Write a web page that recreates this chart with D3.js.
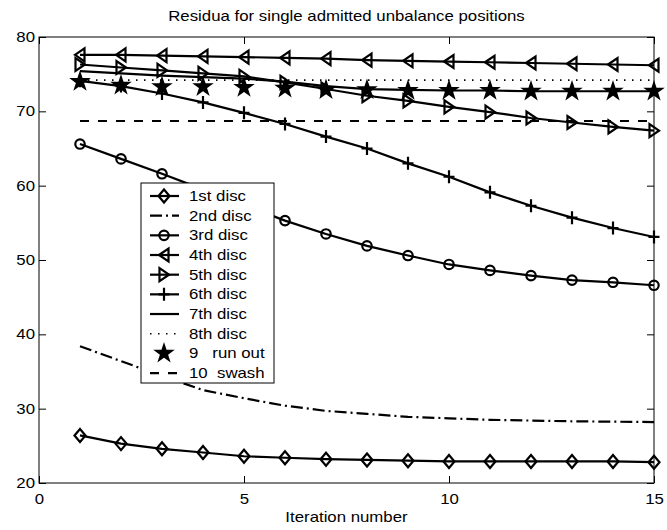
<!DOCTYPE html>
<html>
<head>
<meta charset="utf-8">
<script src="https://cdn.jsdelivr.net/npm/d3@7"></script>
<style>
  body { margin: 0; background: #fff; }
  svg { display: block; font-family: "Liberation Sans", Arial, Helvetica, sans-serif; }
</style>
</head>
<body>
<svg id="chart" width="667" height="530"></svg>
<script>
// ---- data ----
const iterations = [1,2,3,4,5,6,7,8,9,10,11,12,13,14,15];
const disc1 = [26.4,25.3,24.6,24.1,23.6,23.4,23.2,23.1,23.0,22.9,22.9,22.9,22.9,22.9,22.8];
const disc2 = [38.4,36.4,34.4,32.5,31.4,30.4,29.7,29.3,28.9,28.7,28.5,28.4,28.3,28.25,28.2];
const disc3 = [65.6,63.6,61.6,59.5,57.4,55.3,53.5,51.9,50.6,49.4,48.6,47.9,47.3,47.0,46.6];
const disc4 = [77.6,77.6,77.5,77.4,77.3,77.2,77.1,76.9,76.8,76.7,76.6,76.5,76.4,76.3,76.2];
const disc5 = [76.3,75.9,75.5,75.1,74.7,73.9,73.0,72.1,71.4,70.6,69.9,69.1,68.5,67.9,67.4];
const disc6 = [74.1,73.4,72.4,71.2,69.8,68.3,66.6,65.0,63.0,61.2,59.1,57.3,55.7,54.3,53.1];
const disc7 = [75.4,75.1,74.8,74.6,74.4,74.0,73.4,73.0,72.9,72.8,72.8,72.7,72.7,72.7,72.7];
const disc8 = [74.2,74.2,74.2,74.2,74.2,74.2,74.2,74.2,74.2,74.2,74.2,74.2,74.2,74.2,74.2];
const runOut = [74.0,73.5,73.3,73.3,73.2,73.1,72.9,72.9,72.8,72.8,72.8,72.7,72.7,72.7,72.7];
const swash = [68.7,68.7,68.7,68.7,68.7,68.7,68.7,68.7,68.7,68.7,68.7,68.7,68.7,68.7,68.7];
const seriesNames = ["1st disc","2nd disc","3rd disc","4th disc","5th disc","6th disc","7th disc","8th disc","9   run out","10  swash"];
const xTicks = [0,5,10,15];
const yTicks = [20,30,40,50,60,70,80];
const titleText = "Residua for single admitted unbalance positions";
const xLabel = "Iteration number";

// ---- styles ----
const markerPaths = {
  diamond: "M0,-6.5L5.5,0L0,6.5L-5.5,0Z",
  tleft: "M-5,0L4.5,-6.5L4.5,6.5Z",
  tright: "M5,0L-4.5,-6.5L-4.5,6.5Z",
  plus: "M-5.5,0H5.5M0,-6.5V6.5",
  circle: d3.symbol(d3.symbolCircle, 70)(),
  star: d3.symbol(d3.symbolStar, 68)()
};
const series = [
  {name: seriesNames[0], values: disc1, dash: null, marker: "diamond"},
  {name: seriesNames[1], values: disc2, dash: "12,4,2,4", marker: null},
  {name: seriesNames[2], values: disc3, dash: null, marker: "circle"},
  {name: seriesNames[3], values: disc4, dash: null, marker: "tleft"},
  {name: seriesNames[4], values: disc5, dash: null, marker: "tright"},
  {name: seriesNames[5], values: disc6, dash: null, marker: "plus"},
  {name: seriesNames[6], values: disc7, dash: null, marker: null},
  {name: seriesNames[7], values: disc8, dash: "1.5,6.5", marker: null, thin: true},
  {name: seriesNames[8], values: runOut, dash: null, marker: "star", noLine: true},
  {name: seriesNames[9], values: swash, dash: "9,9", marker: null}
];

const svg = d3.select("#chart");
const L = 39, R = 654, T = 37, B = 483;
const SX = 1.2; // horizontal text stretch
const x = d3.scaleLinear().domain([0,15]).range([L,R]);
const y = d3.scaleLinear().domain([20,80]).range([B,T]);

svg.append("rect").attr("width",667).attr("height",530).attr("fill","#fff");

function stretchedText(g, tx, ty, str, anchor, size) {
  return g.append("text")
    .attr("transform", `translate(${tx},${ty}) scale(${SX},1)`)
    .attr("text-anchor", anchor)
    .attr("font-size", size)
    .attr("fill", "#000")
    .text(str);
}

// ---- data lines ----
const plot = svg.append("g");
const line = d3.line().x((d,i)=>x(iterations[i])).y(d=>y(d));
series.forEach(s => {
  if (!s.noLine) {
    plot.append("path")
      .attr("d", line(s.values))
      .attr("fill","none")
      .attr("stroke","#000")
      .attr("stroke-width", s.thin ? 1.6 : 2.2)
      .attr("stroke-dasharray", s.dash);
  }
  if (s.marker) {
    plot.selectAll(null).data(s.values).enter().append("path")
      .attr("transform",(d,i)=>`translate(${x(iterations[i])},${y(d)})`)
      .attr("d", markerPaths[s.marker])
      .attr("fill", s.marker === "star" ? "#000" : "none")
      .attr("stroke","#000")
      .attr("stroke-width", 2.2);
  }
});

// ---- axes ----
const axB = svg.append("g").attr("transform",`translate(0,${B})`)
  .call(d3.axisBottom(x).tickValues(xTicks).tickSizeInner(-7).tickSizeOuter(0).tickPadding(11));
const axL = svg.append("g").attr("transform",`translate(${L},0)`)
  .call(d3.axisLeft(y).tickValues(yTicks).tickSizeInner(-7).tickSizeOuter(0).tickPadding(4));
const axT = svg.append("g").attr("transform",`translate(0,${T})`)
  .call(d3.axisTop(x).tickValues(xTicks).tickSizeInner(-7).tickSizeOuter(0).tickFormat(""));
const axR = svg.append("g").attr("transform",`translate(${R},0)`)
  .call(d3.axisRight(y).tickValues(yTicks).tickSizeInner(-7).tickSizeOuter(0).tickFormat(""));
[axB, axL, axT, axR].forEach(a => {
  a.selectAll(".domain").remove();
  a.selectAll("line").attr("stroke","#000");
  a.attr("font-family", null).attr("font-size", null);
});
axB.selectAll("text").attr("font-size",14).attr("fill","#000")
  .attr("transform",`scale(${SX},1)`);
axL.selectAll("text").attr("font-size",14).attr("fill","#000")
  .attr("x", -4/SX).attr("transform",`scale(${SX},1)`);
svg.append("rect").attr("x",L).attr("y",T).attr("width",R-L).attr("height",B-T)
  .attr("fill","none").attr("stroke","#000").attr("stroke-width",1);

// ---- title and label ----
stretchedText(svg, (L+R)/2, 21, titleText, "middle", 14);
stretchedText(svg, (L+R)/2, 522, xLabel, "middle", 14);

// ---- legend ----
const lg = svg.append("g");
const lgX = 141, lgY = 183, lgW = 133, lgH = 200, row0 = 196, rowH = 19.67;
lg.append("rect").attr("x",lgX).attr("y",lgY).attr("width",lgW).attr("height",lgH)
  .attr("fill","#fff").attr("stroke","#000").attr("stroke-width",1);
series.forEach((s,i) => {
  const cy = row0 + i*rowH;
  if (!s.noLine) {
    lg.append("line").attr("x1",150).attr("x2",179).attr("y1",cy).attr("y2",cy)
      .attr("stroke","#000").attr("stroke-width", s.thin ? 1.6 : 2.2)
      .attr("stroke-dasharray", s.dash);
  }
  if (s.marker) {
    lg.append("path").attr("transform",`translate(164,${cy})`)
      .attr("d", markerPaths[s.marker])
      .attr("fill", s.marker === "star" ? "#000" : "none")
      .attr("stroke","#000").attr("stroke-width",2.2);
  }
  stretchedText(lg, 189, cy + 5, s.name, "start", 14).attr("xml:space","preserve").style("white-space","pre");
});
</script>
</body>
</html>
